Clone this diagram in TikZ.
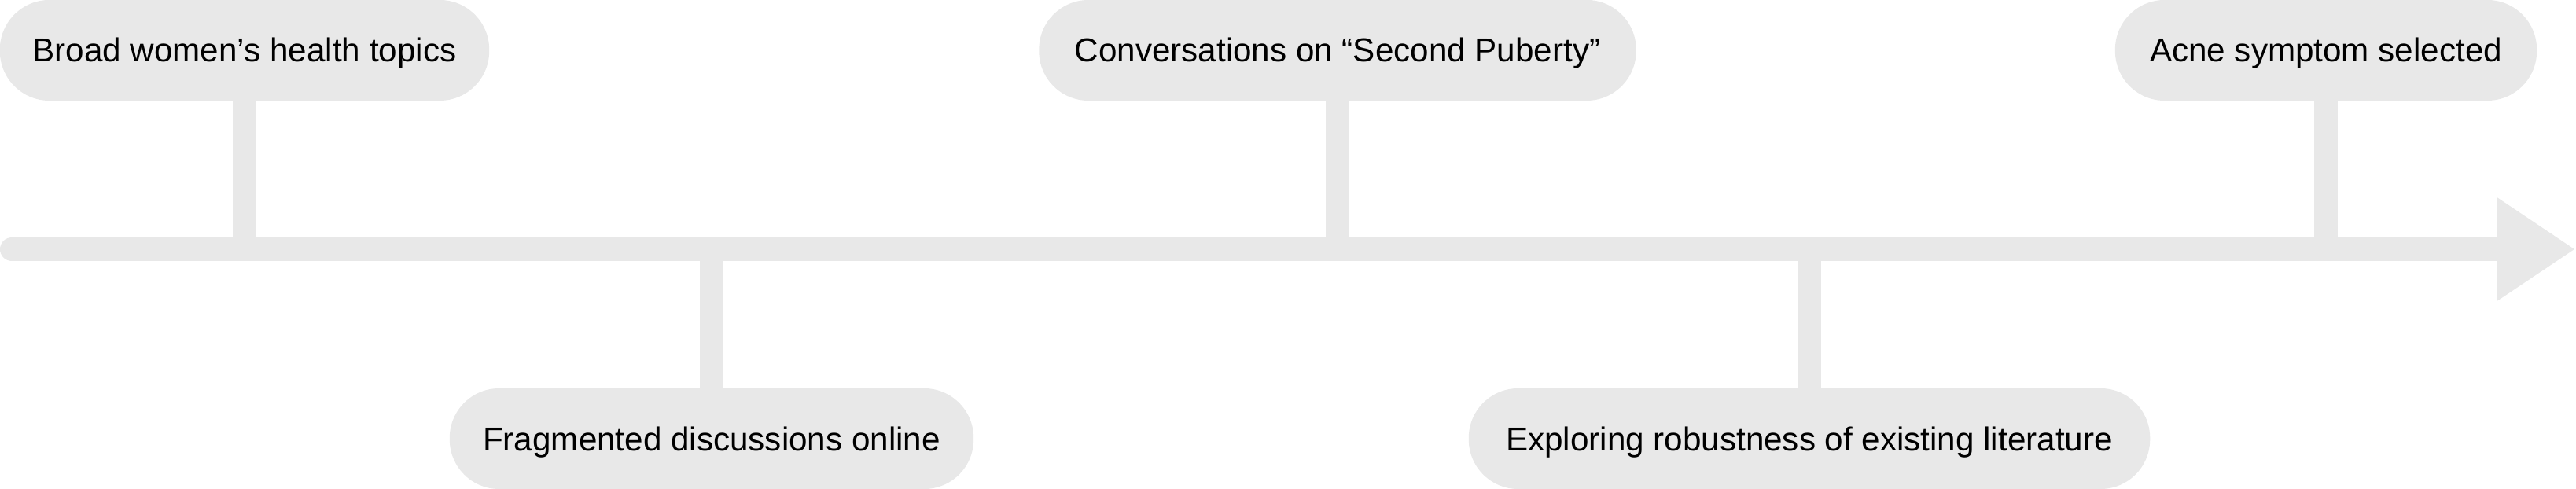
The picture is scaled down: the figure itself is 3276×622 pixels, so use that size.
\documentclass[tikz,border=0pt]{standalone}
\usepackage{fontspec}
\setmainfont{Liberation Sans}
\usetikzlibrary{arrows.meta}
\definecolor{pillgray}{HTML}{E8E8E8}
\tikzset{
  pill/.style={fill=pillgray, draw=none, rounded corners=0.63cm, minimum height=1.28cm,
    inner sep=0pt, align=center, text=black, text height=0.3cm, text depth=0pt,
    font=\fontsize{12pt}{14pt}\selectfont},
  stem/.style={draw=pillgray, line width=0.3cm},
  axisline/.style={draw=pillgray, line width=0.3cm, line cap=round,
    -{Triangle[length=0.99cm,width=1.24cm,fill=pillgray,line cap=butt]}}
}
\begin{document}
\begin{tikzpicture}[x=0.01cm,y=0.01cm]
\useasboundingbox (0,0) rectangle (3276,622);
\coordinate (tlstart) at (15,305);
\coordinate (tlend) at (3275,305);
\draw[axisline] (tlstart) -- (tlend);
% stems
\coordinate (a1) at (311,305);
\coordinate (a2) at (905,305);
\coordinate (a3) at (1701,305);
\coordinate (a4) at (2301,305);
\coordinate (a5) at (2958,305);
\node[pill, minimum width=6.22cm] (n1) at (311,558) {Broad women’s health topics};
\node[pill, minimum width=6.66cm] (n2) at (905,64) {Fragmented discussions online};
\node[pill, minimum width=7.59cm] (n3) at (1701,558) {Conversations on “Second Puberty”};
\node[pill, minimum width=8.66cm] (n4) at (2301,64) {Exploring robustness of existing literature};
\node[pill, minimum width=5.36cm] (n5) at (2958,558) {Acne symptom selected};
\draw[stem] (n1.south) -- (a1);
\draw[stem] (n2.north) -- (a2);
\draw[stem] (n3.south) -- (a3);
\draw[stem] (n4.north) -- (a4);
\draw[stem] (n5.south) -- (a5);
\end{tikzpicture}
\end{document}
